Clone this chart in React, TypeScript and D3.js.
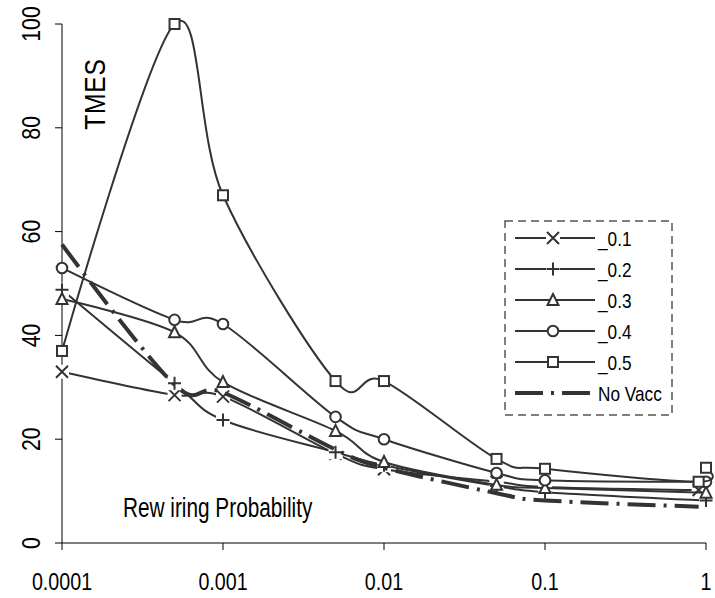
import React from "react";
import * as d3 from "d3";

const xValues = [0.0001, 0.0005, 0.001, 0.005, 0.01, 0.05, 0.1, 0.9, 1];
const s01 = [33, 28.5, 28.2, 17.2, 14.2, 11.8, 10.8, 10.2, null];
const s02 = [48.8, 30.8, 23.7, 17.5, 15, 11, 9.8, null, 8.2];
const s03 = [47, 40.6, 31, 21.6, 15.6, 11.2, 10.6, null, 9.7];
const s04 = [53, 43, 42.2, 24.3, 20, 13.5, 12.1, null, 11.8];
const s05 = [37, 100, 67, 31.2, 31.2, 16.2, 14.3, 11.8, 14.5];
const noVacc = [57.5, 30.5, 29, 18, 14.5, 9.6, 8.2, 7, null];
const seriesNames = ["_0.1", "_0.2", "_0.3", "_0.4", "_0.5", "No Vacc"];
const seriesMarkers = ["x", "plus", "triangle", "circle", "square", "none"];
const xTicks = [0.0001, 0.001, 0.01, 0.1, 1];
const xTickLabels = ["0.0001", "0.001", "0.01", "0.1", "1"];
const yTicks = [0, 20, 40, 60, 80, 100];
const yTitle = "TMES";
const xTitle = "Rew iring Probability";

const allSeries = [s01, s02, s03, s04, s05, noVacc];
const INK = "#333";
const FONT = "'Liberation Sans', Arial, sans-serif";
const NARROW = 0.82;

function Marker({ type, x, y }: { type: string; x: number; y: number }) {
  const sw = 2;
  if (type === "x") {
    const r = 6;
    return (
      <g>
        <rect x={x - 7} y={y - 7} width={14} height={14} fill="#fff" />
        <path d={`M${x - r},${y - r}L${x + r},${y + r}M${x - r},${y + r}L${x + r},${y - r}`} stroke={INK} strokeWidth={sw} fill="none" />
      </g>
    );
  }
  if (type === "plus") {
    const r = 6.5;
    return (
      <g>
        <rect x={x - 7} y={y - 7} width={14} height={14} fill="#fff" />
        <path d={`M${x - r},${y}L${x + r},${y}M${x},${y - r}L${x},${y + r}`} stroke={INK} strokeWidth={sw} fill="none" />
      </g>
    );
  }
  if (type === "triangle") {
    return <path d={`M${x},${y - 6}L${x + 5.5},${y + 5}L${x - 5.5},${y + 5}Z`} stroke={INK} strokeWidth={sw} fill="#fff" />;
  }
  if (type === "circle") {
    return <circle cx={x} cy={y} r={5.3} stroke={INK} strokeWidth={sw} fill="#fff" />;
  }
  if (type === "square") {
    return <rect x={x - 5} y={y - 5} width={10} height={10} stroke={INK} strokeWidth={sw} fill="#fff" />;
  }
  return null;
}

export default function App() {
  const W = 715, H = 598;
  const x = d3.scaleLog().domain([0.0001, 1]).range([62, 706]);
  const y = d3.scaleLinear().domain([0, 100]).range([543, 24]);
  const line = d3
    .line<[number, number]>()
    .x((d) => x(d[0]))
    .y((d) => y(d[1]))
    .curve(d3.curveCatmullRom.alpha(0));

  const pts = allSeries.map((s) =>
    xValues.map((xv, i) => [xv, s[i]] as [number, number | null]).filter((p) => p[1] !== null) as [number, number][]
  );

  const legendX0 = 515, legendX1 = 595, legendY0 = 238, legendDy = 31;

  return (
    <svg width={W} height={H} style={{ position: "absolute", left: 0, top: 0, background: "#fff" }} fontFamily={FONT}>
      <rect width={W} height={H} fill="#fff" />
      {/* axes */}
      <line x1={62} y1={y(100)} x2={62} y2={y(0)} stroke="#000" strokeWidth={1} />
      <line x1={62} y1={y(0)} x2={706} y2={y(0)} stroke="#000" strokeWidth={1} />
      {yTicks.map((t) => (
        <g key={"yt" + t}>
          <line x1={55} x2={62} y1={y(t)} y2={y(t)} stroke="#000" />
          <text transform={`translate(40,${y(t)}) rotate(-90) scale(${NARROW},1)`} textAnchor="middle" fontSize={26} fill="#000">
            {t}
          </text>
        </g>
      ))}
      {xTicks.map((t, i) => (
        <g key={"xt" + t}>
          <line x1={x(t)} x2={x(t)} y1={543} y2={550} stroke="#000" />
          <text transform={`translate(${x(t)},590) scale(${NARROW},1)`} textAnchor="middle" fontSize={24} fill="#000">
            {xTickLabels[i]}
          </text>
        </g>
      ))}
      <text transform={`translate(105,94) rotate(-90) scale(${NARROW},1)`} textAnchor="middle" fontSize={30} fill="#000" letterSpacing={1}>
        {yTitle}
      </text>
      <text transform={`translate(123,517) scale(0.77,1)`} fontSize={27} fill="#000">
        {xTitle}
      </text>

      {/* series */}
      {pts.map((p, si) => (
        <g key={"s" + si}>
          <path
            d={line(p) || ""}
            fill="none"
            stroke={INK}
            strokeWidth={si === 5 ? 4 : 2}
            strokeDasharray={si === 5 ? "28 8 3 8" : undefined}
          />
          {p.map((d, i) => (
            <Marker key={i} type={seriesMarkers[si]} x={x(d[0])} y={y(d[1])} />
          ))}
        </g>
      ))}

      {/* legend */}
      <rect x={505} y={221} width={167} height={194} fill="none" stroke="#555" strokeWidth={1.5} strokeDasharray="8 5" />
      {seriesNames.map((n, i) => {
        const ly = legendY0 + i * legendDy;
        return (
          <g key={"lg" + i}>
            {i < 5 ? (
              <line x1={legendX0} x2={legendX1} y1={ly} y2={ly} stroke={INK} strokeWidth={2} />
            ) : (
              <line x1={legendX0} x2={legendX1} y1={ly} y2={ly} stroke={INK} strokeWidth={4} strokeDasharray="28 8 3 8" />
            )}
            {i < 5 && <Marker type={seriesMarkers[i]} x={553} y={ly} />}
            <text transform={`translate(598,${ly + 8}) scale(${NARROW},1)`} fontSize={21} fill="#000">
              {n}
            </text>
          </g>
        );
      })}
    </svg>
  );
}
